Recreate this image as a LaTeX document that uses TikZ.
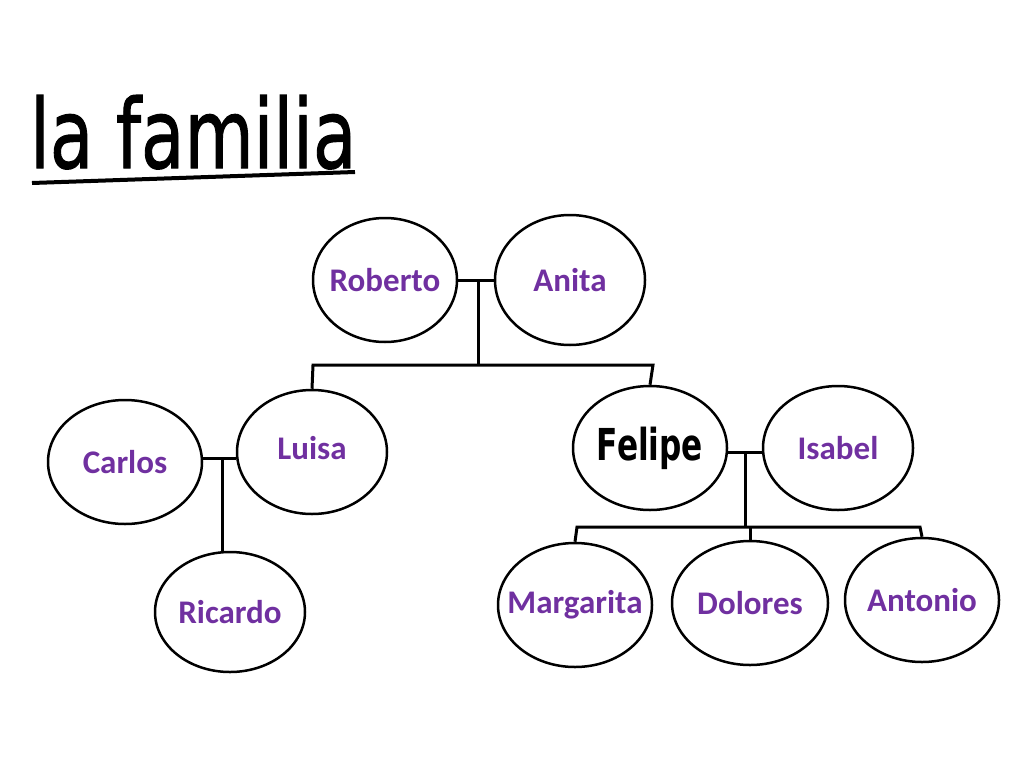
\documentclass[tikz,border=0pt]{standalone}
\usepackage{fontspec}
\usepackage{graphicx}
\setmainfont{Carlito}
\newfontfamily\titlefont{DejaVu Sans}
\usetikzlibrary{shapes.geometric}
\definecolor{nm}{HTML}{7030A0}
\newcommand{\zb}[1]{\makebox[0pt]{#1}}
\tikzset{x=1pt,y=-1pt,
  pers/.style={ellipse,draw,line width=2.5pt,inner sep=0pt,text=nm,font=\bfseries\fontsize{33}{36}\selectfont},
  ln/.style={line width=3pt}}
\begin{document}
\begin{tikzpicture}
\useasboundingbox (0,0) rectangle (1024,768);
\node[anchor=base west,font=\titlefont\fontsize{96}{100}\selectfont,xscale=0.74,inner sep=0pt] (title) at (30,168) {\special{pdf:literal 1.2 w 2 Tr}la familia\special{pdf:literal 0 Tr}};
\draw[line width=4pt] (32,183) -- (355,172);
\node[pers,minimum width=144pt,minimum height=124pt] (rob) at (385,280) {\zb{Roberto}};
\node[pers,minimum width=150pt,minimum height=130pt] (ani) at (570,280) {\zb{Anita}};
\node[pers,minimum width=154pt,minimum height=124pt] (car) at (125,462) {\zb{Carlos}};
\node[pers,minimum width=150pt,minimum height=124pt] (lui) at (312,452) {\zb{\raisebox{8pt}{Luisa}}};
\node[pers,minimum width=154pt,minimum height=124pt,text=black,font=\titlefont\bfseries\fontsize{40}{42}\selectfont] (fel) at (650,448) {\zb{\scalebox{0.78}[1.1]{Felipe}}};
\node[pers,minimum width=150pt,minimum height=124pt] (isa) at (838,448) {\zb{Isabel}};
\node[pers,minimum width=150pt,minimum height=120pt] (ric) at (230,612) {\zb{Ricardo}};
\node[pers,minimum width=154pt,minimum height=124pt] (mar) at (575,605) {\zb{Margarita}};
\node[pers,minimum width=156pt,minimum height=124pt] (dol) at (750,603) {\zb{Dolores}};
\node[pers,minimum width=154pt,minimum height=124pt] (ant) at (922,600) {\zb{Antonio}};
\draw[ln] (rob.east) -- (ani.west);
\draw[ln] (478,282) -- (478,365);
\draw[ln] (lui.north) -- (313,365) -- (653,365) -- (fel.north);
\draw[ln] (car.east |- 0,458) -- (lui.west |- 0,458);
\draw[ln] (222,458) -- (ric.north -| 222,0);
\draw[ln] (fel.east |- 0,452) -- (isa.west |- 0,452);
\draw[ln] (745,452) -- (745,527);
\draw[ln] (mar.north) -- (577,527) -- (920,527) -- (ant.north);
\draw[ln] (dol.north) -- (750,527);
\end{tikzpicture}
\end{document}
